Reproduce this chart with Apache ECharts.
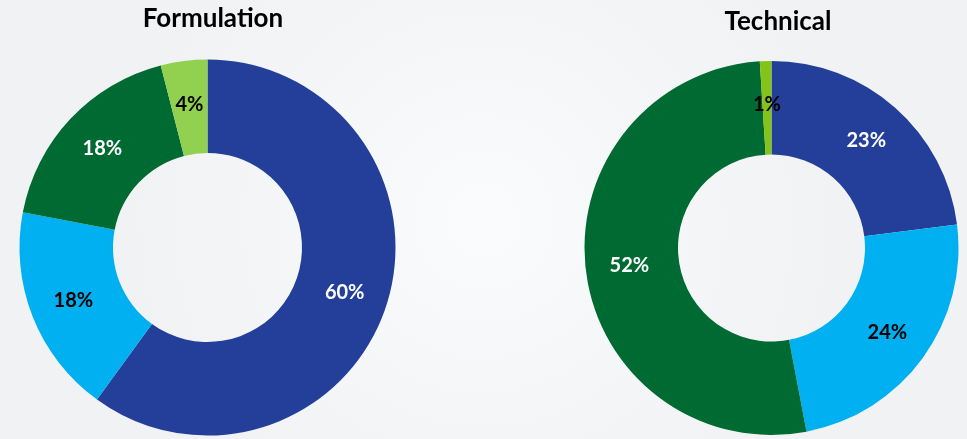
<!DOCTYPE html>
<html>
<head>
<meta charset="utf-8">
<script src="https://cdn.jsdelivr.net/npm/echarts@6/dist/echarts.min.js"></script>
<style>
html,body{margin:0;padding:0;background:#f5f6f7;}
#c{width:967px;height:439px;}
</style>
</head>
<body>
<div id="c"></div>
<script>
// Data
const categories = ['Dark blue', 'Light blue', 'Dark green', 'Light green'];
const formulationValues = [60, 18, 18, 4];
const technicalValues = [23, 24, 52, 1];
const titles = ['Formulation', 'Technical'];

const fColors = ['#233f99', '#00b0f0', '#006a33', '#92d050'];
const tColors = ['#233f99', '#00b0f0', '#006a33', '#84c31a'];
const labelColors = ['#ffffff', '#000000', '#ffffff', '#000000'];

function buildData(vals, colors) {
  return vals.map((v, i) => ({
    name: categories[i],
    value: v,
    itemStyle: { color: colors[i] },
    label: { color: labelColors[i] }
  }));
}

const font = 'Lato, "Open Sans", sans-serif';
const chart = echarts.init(document.getElementById('c'), null, { renderer: 'canvas' });
chart.setOption({
  backgroundColor: {
    type: 'radial', x: 0.5, y: 0.5, r: 0.8,
    colorStops: [{ offset: 0, color: '#fafbfc' }, { offset: 1, color: '#f1f2f4' }]
  },
  animation: false,
  title: [
    { text: titles[0], left: 208, top: 1, textAlign: 'center',
      textStyle: { fontFamily: font, fontWeight: 'bold', fontSize: 26, color: '#000' } },
    { text: titles[1], left: 773, top: 4, textAlign: 'center',
      textStyle: { fontFamily: font, fontWeight: 'bold', fontSize: 26, color: '#000' } }
  ],
  series: [
    {
      type: 'pie', center: [207.5, 247.5], radius: [94.5, 188],
      startAngle: 90, clockwise: true, avoidLabelOverlap: false,
      label: { show: true, position: 'inside', formatter: '{c}%',
        fontFamily: font, fontWeight: 'bold', fontSize: 20 },
      labelLine: { show: false },
      emphasis: { disabled: true },
      data: buildData(formulationValues, fColors)
    },
    {
      type: 'pie', center: [771.5, 248], radius: [93.5, 187],
      startAngle: 90, clockwise: true, avoidLabelOverlap: false,
      label: { show: true, position: 'inside', formatter: '{c}%',
        fontFamily: font, fontWeight: 'bold', fontSize: 20 },
      labelLine: { show: false },
      emphasis: { disabled: true },
      data: buildData(technicalValues, tColors)
    }
  ]
});
</script>
</body>
</html>
